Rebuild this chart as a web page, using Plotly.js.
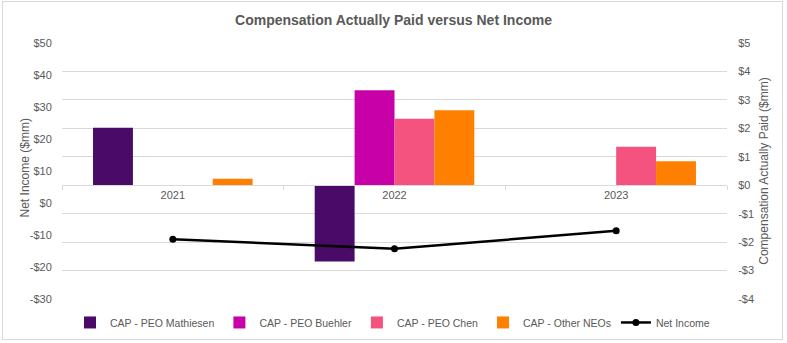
<!DOCTYPE html>
<html>
<head>
<meta charset="utf-8">
<script src="https://cdn.plot.ly/plotly-3.0.1.min.js"></script>
<style>
html,body{margin:0;padding:0;background:#fff;}
#wrap{position:absolute;left:2px;top:1px;width:781px;height:339px;border:1px solid #d9d9d9;box-sizing:border-box;}
#chart{position:absolute;left:0;top:0;width:787px;height:343px;}
</style>
</head>
<body>
<div id="wrap"></div>
<div id="chart"></div>
<script>
// Data
const years = ["2021", "2022", "2023"];
const capMathiesen = [2.02, -2.68, null];
const capBuehler = [null, 3.34, null];
const capChen = [null, 2.34, 1.35];
const capOtherNEOs = [0.23, 2.64, 0.84];
const netIncome = [-11.3, -14.3, -8.7];

const capTickVals = [-4, -3, -2, -1, 0, 1, 2, 3, 4, 5];
const capTickText = ["-$4", "-$3", "-$2", "-$1", "$0", "$1", "$2", "$3", "$4", "$5"];
const niTickVals = [-30, -20, -10, 0, 10, 20, 30, 40, 50];
const niTickText = ["-$30", "-$20", "-$10", "$0", "$10", "$20", "$30", "$40", "$50"];

const txt = "#595959";
const FONT = "Liberation Sans, Arial, sans-serif";

const traces = [
  {type: "bar", name: "CAP - PEO Mathiesen", x: years, y: capMathiesen, marker: {color: "#4a0a68"}, yaxis: "y"},
  {type: "bar", name: "CAP - PEO Buehler", x: years, y: capBuehler, marker: {color: "#c800a8"}, yaxis: "y"},
  {type: "bar", name: "CAP - PEO Chen", x: years, y: capChen, marker: {color: "#f4527f"}, yaxis: "y"},
  {type: "bar", name: "CAP - Other NEOs", x: years, y: capOtherNEOs, marker: {color: "#ff8000"}, yaxis: "y"},
  {type: "scatter", mode: "lines+markers", name: "Net Income", x: years, y: netIncome,
   line: {color: "#000000", width: 2.5}, marker: {color: "#000000", size: 7}, yaxis: "y2"}
];

const layout = {
  width: 787, height: 343,
  paper_bgcolor: "rgba(0,0,0,0)", plot_bgcolor: "rgba(0,0,0,0)",
  font: {family: FONT, size: 11, color: txt},
  margin: {l: 62, r: 60, t: 43, b: 44, autoexpand: false},
  title: {text: "<b>Compensation Actually Paid versus Net Income</b>", x: 0.5, xanchor: "center", y: 0.94, yanchor: "middle",
          font: {family: FONT, size: 14, color: txt}},
  barmode: "group", bargap: 0.28, bargroupgap: 0,
  xaxis: {type: "category", anchor: "free", position: 0.4443, showline: true, linecolor: "#d9d9d9", linewidth: 1,
          ticks: "outside", tickson: "boundaries", ticklen: 4, tickcolor: "#d9d9d9", showgrid: false,
          tickfont: {size: 11, color: txt}},
  yaxis: {side: "right", range: [-4, 5], tickvals: capTickVals, ticktext: capTickText,
          showgrid: true, gridcolor: "#d9d9d9", gridwidth: 1, zeroline: false,
          ticks: "outside", ticklen: 8, tickcolor: "rgba(0,0,0,0)",
          tickfont: {size: 11, color: txt}, automargin: true,
          title: {text: "Compensation Actually Paid ($mm)", font: {size: 12, color: txt}, standoff: 6}},
  yaxis2: {side: "left", overlaying: "y", range: [-30, 50], tickvals: niTickVals, ticktext: niTickText,
           showgrid: false, zeroline: false,
           ticks: "outside", ticklen: 7, tickcolor: "rgba(0,0,0,0)",
           tickfont: {size: 11, color: txt}},
  annotations: [
    {text: "Net Income ($mm)", xref: "paper", yref: "paper", x: -0.0556, y: 0.51, xanchor: "center", yanchor: "middle",
     textangle: -90, showarrow: false, font: {size: 12, color: txt}}
  ],
  legend: {orientation: "h", x: 0.012, xanchor: "left", y: -0.035, yanchor: "top",
           font: {size: 10.5, color: txt}, traceorder: "normal"},
  showlegend: true
};

Plotly.newPlot("chart", traces, layout, {displayModeBar: false, staticPlot: true});
</script>
</body>
</html>
